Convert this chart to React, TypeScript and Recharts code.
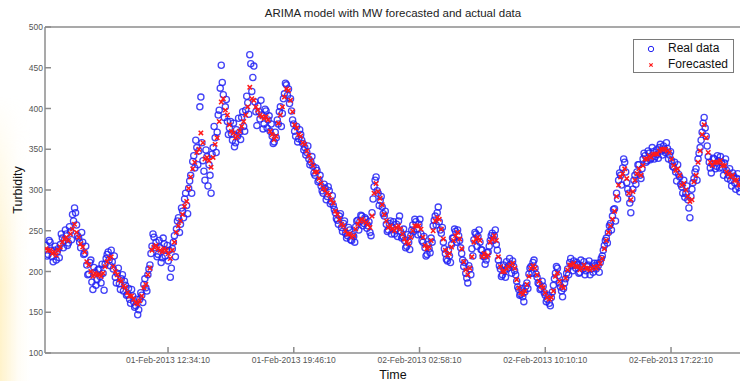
import React from 'react';
import { ScatterChart, Scatter, XAxis, YAxis, Legend } from 'recharts';

// Sampling grid (seconds since 01-Feb-2013 00:00:00)
const REAL_START_SEC = 20100; // 01-Feb-2013 05:35:00
const REAL_STEP_SEC = 420; // 7 minutes between logger readings
const REAL_OFFSET_B_SEC = 210; // second sensor pass, half a step later
const FORECAST_STEP_SEC = 840; // each forecast pass every 14 minutes

// Measured turbidity, pass A
const realTurbidityA: number[] = [
  232, 221, 236, 218, 226, 214, 228, 233, 241, 238,
  246, 235, 249, 270, 278, 257, 241, 229, 236, 222,
  208, 197, 214, 178, 199, 190, 203, 186, 198, 209,
  221, 214, 226, 203, 193, 198, 185, 191, 176, 183,
  172, 166, 178, 163, 158, 147, 166, 171, 184, 180,
  196, 208, 231, 242, 236, 221, 229, 217, 234, 226,
  213, 193, 228, 244, 252, 266, 258, 274, 289, 281,
  302, 318, 335, 327, 352, 348, 414, 336, 312, 341,
  331, 296, 352, 364, 371, 398, 453, 417, 402, 384,
  376, 369, 382, 358, 366, 371, 389, 378, 398, 407,
  466, 421, 452, 396, 403, 387, 392, 381, 397, 386,
  372, 366, 359, 364, 381, 402, 394, 418, 429, 424,
  412, 386, 372, 378, 363, 368, 357, 352, 346, 338,
  334, 329, 318, 324, 312, 305, 296, 302, 292, 299,
  286, 281, 272, 263, 268, 254, 259, 247, 244, 251,
  238, 243, 255, 263, 261, 268, 259, 264, 256, 248,
  272, 304, 316, 296, 287, 279, 268, 258, 251, 262,
  254, 246, 258, 262, 249, 243, 238, 231, 236, 244,
  257, 264, 252, 258, 246, 236, 229, 221, 228, 241,
  256, 268, 272, 261, 247, 236, 222, 213, 219, 233,
  241, 249, 251, 238, 222, 206, 198, 186, 203, 228,
  239, 246, 243, 236, 226, 218, 214, 224, 238, 247,
  244, 233, 214, 203, 196, 201, 212, 207, 209, 213,
  201, 188, 178, 172, 169, 175, 186, 197, 206, 211,
  204, 193, 185, 179, 182, 171, 166, 161, 168, 183,
  198, 204, 186, 176, 179, 191, 203, 211, 207, 213,
  204, 209, 199, 206, 212, 201, 208, 196, 204, 210,
  203, 207, 211, 219, 232, 241, 248, 259, 268, 277,
  296, 312, 318, 327, 334, 309, 296, 272, 301, 318,
  322, 331, 314, 338, 342, 336, 345, 339, 347, 341,
  344, 352, 348, 354, 346, 351, 343, 336, 328, 322,
  331, 316, 304, 312, 296, 288, 266, 301, 314, 326,
  338, 352, 371, 389, 366, 341, 327, 332, 338, 329,
  336, 341, 327, 333, 324, 318, 312, 321, 309, 314,
  303, 308,
];

// Measured turbidity, pass B
const realTurbidityB: number[] = [
  219, 238, 226, 212, 231, 224, 217, 246, 229, 251,
  232, 255, 239, 262, 272, 244, 236, 248, 221, 231,
  196, 211, 187, 205, 183, 202, 194, 209, 177, 216,
  224, 207, 212, 219, 186, 204, 178, 196, 188, 171,
  179, 161, 170, 156, 166, 153, 174, 162, 191, 176,
  203, 222, 246, 229, 218, 238, 211, 241, 219, 232,
  226, 204, 236, 218, 262, 248, 278, 266, 296, 271,
  311, 296, 342, 361, 331, 402, 358, 323, 349, 305,
  318, 344, 378, 346, 392, 425, 432, 389, 411, 368,
  384, 361, 353, 374, 388, 362, 396, 372, 415, 393,
  455, 438, 408, 379, 396, 410, 375, 399, 376, 391,
  381, 357, 371, 386, 396, 378, 412, 431, 416, 406,
  397, 381, 366, 359, 374, 361, 349, 343, 354, 331,
  341, 321, 327, 310, 318, 299, 307, 288, 304, 283,
  293, 276, 265, 258, 271, 249, 262, 241, 254, 239,
  245, 236, 262, 251, 269, 256, 266, 253, 261, 244,
  289, 312, 299, 281, 292, 271, 274, 249, 259, 246,
  261, 251, 243, 268, 241, 252, 229, 245, 227, 251,
  249, 261, 245, 264, 238, 243, 219, 233, 223, 236,
  263, 257, 279, 251, 254, 228, 215, 226, 211, 241,
  252, 236, 244, 229, 214, 211, 192, 207, 196, 219,
  248, 231, 251, 227, 219, 209, 223, 231, 244, 238,
  251, 226, 207, 194, 208, 193, 204, 216, 198, 206,
  196, 181, 171, 179, 163, 182, 179, 204, 198, 214,
  197, 186, 178, 188, 174, 163, 171, 158, 175, 191,
  206, 195, 181, 169, 186, 198, 196, 216, 201, 208,
  211, 198, 214, 203, 196, 207, 213, 203, 199, 207,
  210, 199, 216, 226, 238, 235, 256, 251, 276, 262,
  289, 321, 306, 338, 322, 301, 284, 289, 312, 307,
  331, 318, 326, 345, 334, 348, 337, 352, 338, 349,
  339, 356, 343, 349, 358, 338, 347, 329, 334, 311,
  319, 307, 296, 291, 305, 278, 292, 309, 322, 312,
  345, 361, 382, 376, 354, 334, 321, 339, 326, 342,
  327, 334, 318, 338, 314, 326, 305, 317, 301, 320,
  298, 311,
];

// ARIMA forecast, odd grid steps
const forecastTurbidityOdd: number[] = [
  226, 222, 220, 230, 240, 238, 252, 248, 234, 224,
  208, 194, 196, 194, 206, 216, 206, 196, 188, 180,
  170, 166, 160, 170, 184, 204, 230, 228, 224, 226,
  216, 236, 256, 270, 286, 316, 334, 350, 358, 340,
  328, 356, 384, 412, 392, 372, 364, 372, 384, 402,
  412, 402, 392, 388, 386, 368, 366, 392, 414, 422,
  396, 376, 366, 356, 342, 330, 322, 308, 300, 294,
  284, 270, 258, 250, 246, 244, 258, 264, 260, 254,
  296, 298, 282, 262, 256, 250, 256, 246, 236, 242,
  256, 256, 242, 228, 238, 262, 264, 240, 220, 230,
  244, 240, 212, 196, 218, 240, 238, 222, 220, 240,
  238, 206, 200, 206, 210, 190, 174, 176, 194, 207,
  196, 182, 174, 166, 176, 198, 182, 192, 208, 210,
  206, 204, 204, 202, 206, 206, 216, 238, 256, 274,
  306, 320, 314, 288, 312, 326, 330, 338, 340, 344,
  348, 350, 348, 338, 324, 318, 308, 292, 288, 318,
  348, 380, 346, 330, 334, 336, 330, 320, 318, 312, 306,
];

// ARIMA forecast, even grid steps
const forecastTurbidityEven: number[] = [
  228, 226, 224, 226, 236, 242, 246, 258, 242, 230,
  212, 200, 198, 196, 198, 212, 218, 200, 190, 182,
  174, 170, 162, 164, 180, 196, 226, 232, 226, 228,
  222, 226, 248, 262, 280, 302, 326, 346, 370, 338,
  336, 340, 364, 408, 398, 380, 370, 366, 378, 392,
  426, 410, 398, 390, 390, 372, 362, 382, 402, 424,
  410, 380, 368, 358, 348, 336, 322, 314, 302, 296,
  288, 274, 264, 256, 246, 242, 252, 262, 262, 258,
  268, 308, 290, 270, 254, 252, 254, 252, 240, 234,
  250, 256, 252, 232, 230, 250, 266, 252, 226, 222,
  238, 248, 228, 202, 204, 236, 242, 218, 218, 236,
  244, 218, 200, 204, 208, 204, 180, 172, 184, 204,
  204, 188, 180, 168, 168, 194, 188, 180, 202, 208,
  206, 202, 208, 204, 204, 204, 210, 228, 248, 264,
  292, 316, 326, 296, 298, 320, 318, 338, 342, 344,
  344, 350, 350, 346, 330, 326, 306, 300, 286, 310,
  334, 368, 364, 334, 334, 334, 330, 322, 316, 312, 306,
];

const timeTicks = [45250, 71170, 97090, 123010, 148930];
const timeDomain = [19890, 163560];
const turbidityTicks = [100, 150, 200, 250, 300, 350, 400, 450, 500];

const realData = [
  ...realTurbidityA.map((v, i) => ({ t: REAL_START_SEC + i * REAL_STEP_SEC, v })),
  ...realTurbidityB.map((v, i) => ({ t: REAL_START_SEC + REAL_OFFSET_B_SEC + i * REAL_STEP_SEC, v })),
];
const forecastData = [
  ...forecastTurbidityEven.map((v, i) => ({ t: REAL_START_SEC + i * FORECAST_STEP_SEC, v })),
  ...forecastTurbidityOdd.map((v, i) => ({ t: REAL_START_SEC + REAL_STEP_SEC + i * FORECAST_STEP_SEC, v })),
];

const MONTHS = ['Jan', 'Feb', 'Mar'];
const pad = (n: number) => String(n).padStart(2, '0');
const formatTime = (sec: number) => {
  const day = 1 + Math.floor(sec / 86400);
  const rem = sec % 86400;
  const h = Math.floor(rem / 3600);
  const m = Math.floor((rem % 3600) / 60);
  const s = rem % 60;
  return `${pad(day)}-${MONTHS[1]}-2013 ${pad(h)}:${pad(m)}:${pad(s)}`;
};

const FONT = "Arial, 'Liberation Sans', Helvetica, sans-serif";
const AXIS_GRAY = '#8c8c8c';
const BLUE = '#2222f4';
const RED = '#ff1a1a';

const RingMark = (p: any) => (
  <circle cx={p.cx} cy={p.cy} r={3.1} fill="none" stroke={BLUE} strokeWidth={1.3} strokeOpacity={0.85} />
);

const CrossMark = (p: any) => {
  const { cx, cy } = p;
  const d = 2.2;
  return (
    <path
      d={`M${cx - d},${cy - d}L${cx + d},${cy + d}M${cx - d},${cy + d}L${cx + d},${cy - d}`}
      stroke={RED}
      strokeWidth={1.5}
      fill="none"
    />
  );
};

const LegendBox = () => (
  <div
    style={{
      width: 101,
      height: 34,
      border: '1px solid #7a7a7a',
      background: '#fff',
      fontFamily: FONT,
      fontSize: 12,
      color: '#111',
      boxSizing: 'border-box',
      position: 'relative',
    }}
  >
    <svg width={20} height={34} style={{ position: 'absolute', left: 8, top: 0 }}>
      <circle cx={9} cy={9} r={2.7} fill="none" stroke={BLUE} strokeWidth={1} />
      <path d="M7.3,23.3L10.7,26.7M7.3,26.7L10.7,23.3" stroke={RED} strokeWidth={1.2} />
    </svg>
    <div style={{ position: 'absolute', left: 34, top: 1, lineHeight: '15px' }}>Real data</div>
    <div style={{ position: 'absolute', left: 34, top: 17, lineHeight: '15px' }}>Forecasted</div>
  </div>
);

export default function App() {
  return (
    <div style={{ position: 'absolute', left: 0, top: 0, width: 740, height: 381, overflow: 'hidden', background: '#fff' }}>
      <div
        style={{
          position: 'absolute',
          left: 0,
          top: 0,
          width: 30,
          height: 381,
          background: 'linear-gradient(to right, rgba(255,233,160,0.55), rgba(255,245,215,0.25) 60%, rgba(255,255,255,0))',
          WebkitMaskImage: 'linear-gradient(to bottom, transparent 25%, black 75%)',
          maskImage: 'linear-gradient(to bottom, transparent 25%, black 75%)',
        }}
      />
      <div style={{ position: 'absolute', left: 0, top: 0 }}>
        <ScatterChart width={770} height={381} margin={{ top: 7, right: 8, bottom: 0, left: 0 }}>
          <XAxis
            dataKey="t"
            type="number"
            domain={timeDomain}
            ticks={timeTicks}
            allowDataOverflow
            tickFormatter={formatTime}
            height={28}
            tickSize={-6}
            tickMargin={10}
            stroke={AXIS_GRAY}
            strokeWidth={1.5}
            tick={{ fill: '#555', fontSize: 8.5, fontFamily: FONT }}
            label={{
              content: () => (
                <text x={393} y={379} textAnchor="middle" fontFamily={FONT} fontSize={12.5} fill="#111">
                  Time
                </text>
              ),
            }}
          />
          <XAxis
            xAxisId="top"
            orientation="top"
            dataKey="t"
            type="number"
            domain={timeDomain}
            ticks={timeTicks}
            allowDataOverflow
            height={20}
            tickSize={-6}
            tick={false}
            stroke={AXIS_GRAY}
            strokeWidth={1.5}
            label={{
              content: () => (
                <text x={393} y={17} textAnchor="middle" fontFamily={FONT} fontSize={11.5} fill="#222">
                  ARIMA model with MW forecasted and actual data
                </text>
              ),
            }}
          />
          <YAxis
            dataKey="v"
            type="number"
            domain={[100, 500]}
            ticks={turbidityTicks}
            allowDataOverflow
            width={45}
            tickSize={-6}
            tickMargin={8}
            stroke={AXIS_GRAY}
            strokeWidth={1.5}
            tick={{ fill: '#555', fontSize: 8.5, fontFamily: FONT }}
            label={{
              content: () => (
                <text
                  x={22}
                  y={190}
                  transform="rotate(-90 22 190)"
                  textAnchor="middle"
                  fontFamily={FONT}
                  fontSize={12.5}
                  fill="#111"
                >
                  Turbidity
                </text>
              ),
            }}
          />
          <YAxis
            yAxisId="right"
            orientation="right"
            dataKey="v"
            type="number"
            domain={[100, 500]}
            ticks={turbidityTicks}
            allowDataOverflow
            width={20}
            tickSize={-6}
            tick={false}
            stroke={AXIS_GRAY}
            strokeWidth={1.5}
          />
          <Legend
            layout="vertical"
            align="center"
            verticalAlign="middle"
            wrapperStyle={{ left: 633, top: 39, width: 101, height: 34 }}
            content={() => <LegendBox />}
          />
          <Scatter name="Real data" data={realData} shape={RingMark} isAnimationActive={false} />
          <Scatter name="Forecasted" data={forecastData} shape={CrossMark} isAnimationActive={false} />
        </ScatterChart>
      </div>
    </div>
  );
}
